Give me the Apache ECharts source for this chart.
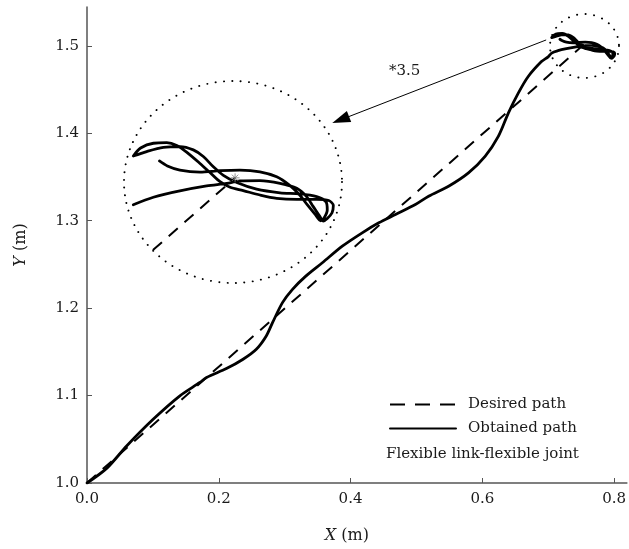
<!DOCTYPE html>
<html>
<head>
<meta charset="utf-8">
<script src="https://cdn.jsdelivr.net/npm/echarts@6/dist/echarts.min.js"></script>
<style>
  html, body { margin: 0; padding: 0; background: #fff; }
  #chart { width: 629px; height: 549px; }
</style>
</head>
<body>
<div id="chart"></div>
<script>
// Tick values
const xTicks = [0.0, 0.2, 0.4, 0.6, 0.8];
const yTicks = [1.0, 1.1, 1.2, 1.3, 1.4, 1.5];

// Desired straight path (start -> target)
const desiredX = [0.0, 0.754];
const desiredY = [1.0, 1.5015];

// Part of the desired path visible inside the magnified circle
const insetDesiredX = [0.7147, 0.754];
const insetDesiredY = [1.4754, 1.5015];

// Obtained path: approach from the origin to the target region
const approachX = [0.0, 0.0302, 0.0605, 0.1008, 0.1410, 0.1713, 0.1814, 0.2116, 0.2369, 0.2570,
  0.2721, 0.2816, 0.2967, 0.3119, 0.3321, 0.3572, 0.3875, 0.4177, 0.4429, 0.4682,
  0.4984, 0.5185, 0.5488, 0.5790, 0.6042, 0.6243, 0.6395, 0.6546, 0.6697, 0.6898, 0.6999];
const approachY = [1.0, 1.0170, 1.0426, 1.0731, 1.0997, 1.1150, 1.1207, 1.1309, 1.1416, 1.1530,
  1.1682, 1.1834, 1.2063, 1.2215, 1.2366, 1.2519, 1.2709, 1.2862, 1.2976, 1.3071,
  1.3185, 1.3280, 1.3394, 1.3547, 1.3736, 1.3965, 1.4232, 1.4460, 1.4650, 1.4821, 1.4875];

// Obtained path: oscillation around the target point
const tangleX = [0.7053, 0.7149, 0.7276, 0.7404, 0.7500, 0.7563, 0.7659, 0.7755, 0.7835, 0.7882, 0.7914, 0.7946, 0.7962,
  0.7981, 0.8004, 0.8010, 0.7988, 0.7930, 0.7835, 0.7739, 0.7659, 0.7579, 0.7516, 0.7468, 0.7420, 0.7372, 0.7308, 0.7261, 0.7213, 0.7149, 0.7088, 0.7053,
  0.7117, 0.7197, 0.7276, 0.7340, 0.7388, 0.7436, 0.7484, 0.7548, 0.7643, 0.7755, 0.7851, 0.7930, 0.7975, 0.7981, 0.7965, 0.7950,
  0.7922, 0.7886, 0.7847, 0.7800, 0.7739, 0.7659, 0.7563, 0.7468, 0.7372, 0.7276, 0.7216, 0.7178];
const tangleY = [1.4918, 1.4945, 1.4968, 1.4986, 1.4995, 1.5004, 1.5005, 1.4995, 1.4977, 1.4947, 1.4911, 1.4875, 1.4859,
  1.4868, 1.4889, 1.4915, 1.4933, 1.4937, 1.4937, 1.4941, 1.4953, 1.4969, 1.4981, 1.5001, 1.5034, 1.5067, 1.5108, 1.5132, 1.5142, 1.5140, 1.5123, 1.5094,
  1.5110, 1.5125, 1.5128, 1.5116, 1.5092, 1.5055, 1.5024, 1.4998, 1.4974, 1.4961, 1.4957, 1.4947, 1.4928, 1.4899, 1.4869, 1.4860,
  1.4884, 1.4917, 1.4955, 1.4989, 1.5019, 1.5037, 1.5043, 1.5041, 1.5036, 1.5043, 1.5058, 1.5076];

const zip = (xs, ys) => xs.map((x, i) => [x, ys[i]]);
const obtained = zip(approachX.concat(tangleX), approachY.concat(tangleY));
const tangle = zip(tangleX, tangleY);
const desired = zip(desiredX, desiredY);
const insetDesired = zip(insetDesiredX, insetDesiredY);

const FONT = 'DejaVu Serif';
const TXT = '#1a1a1a';
const AXIS = '#555';

// Magnified view window (centred on the target)
const zoomCx = 0.753, zoomCy = 1.5;
const zoomHx = 0.05215, zoomHy = 0.03649;

const chart = echarts.init(document.getElementById('chart'), null, { renderer: 'canvas' });

chart.setOption({
  animation: false,
  backgroundColor: '#fff',
  grid: [
    { left: 87, top: 7, width: 542, height: 477 },
    { left: 124, top: 81, width: 218, height: 202 }
  ],
  xAxis: [
    {
      gridIndex: 0, type: 'value', min: 0, max: 0.8194,
      axisLine: { show: true, onZero: false, lineStyle: { color: AXIS, width: 1.5 } },
      axisTick: { show: true, inside: true, length: 5, customValues: xTicks, lineStyle: { color: AXIS, width: 1 } },
      axisLabel: { customValues: xTicks, margin: 9, color: TXT, fontFamily: FONT, fontSize: 15,
        formatter: v => v.toFixed(1) },
      splitLine: { show: false },
      name: '{i|X}{n| (m)}', nameLocation: 'middle', nameGap: 45,
      nameTextStyle: { padding: [0, 20, 0, 0],
        rich: { i: { fontFamily: FONT, fontStyle: 'italic', fontSize: 16, color: TXT },
                n: { fontFamily: FONT, fontSize: 16, color: TXT } } }
    },
    { gridIndex: 1, type: 'value', min: zoomCx - zoomHx, max: zoomCx + zoomHx, show: false }
  ],
  yAxis: [
    {
      gridIndex: 0, type: 'value', min: 1.0, max: 1.5445,
      axisLine: { show: true, onZero: false, lineStyle: { color: AXIS, width: 1.5 } },
      axisTick: { show: true, inside: true, length: 5, customValues: yTicks, lineStyle: { color: AXIS, width: 1 } },
      axisLabel: { customValues: yTicks, margin: 8, color: TXT, fontFamily: FONT, fontSize: 15,
        formatter: v => v.toFixed(1) },
      splitLine: { show: false },
      name: '{i|Y}{n| (m)}', nameLocation: 'middle', nameGap: 58,
      nameTextStyle: {
        rich: { i: { fontFamily: FONT, fontStyle: 'italic', fontSize: 16, color: TXT },
                n: { fontFamily: FONT, fontSize: 16, color: TXT } } }
    },
    { gridIndex: 1, type: 'value', min: zoomCy - zoomHy, max: zoomCy + zoomHy, show: false }
  ],
  legend: {
    orient: 'vertical', left: 384, top: 392,
    itemWidth: 66, itemHeight: 14, itemGap: 9,
    data: [
      { name: 'Desired path', lineStyle: { type: [15, 10] } },
      { name: 'Obtained path' }
    ],
    itemStyle: { color: 'rgba(0,0,0,0)', borderWidth: 0 },
    textStyle: { fontFamily: FONT, fontSize: 15, color: TXT, padding: [0, 0, 0, 7] }
  },
  series: [
    {
      name: 'Desired path', type: 'line', xAxisIndex: 0, yAxisIndex: 0,
      data: desired, symbol: 'none', z: 2,
      lineStyle: { color: '#000', width: 2, type: [12, 9] },
      itemStyle: { color: '#000' },
      markLine: {
        silent: true, symbol: ['none', 'triangle'], symbolSize: [12, 18],
        label: { show: false },
        lineStyle: { color: '#000', width: 1, type: 'solid' },
        itemStyle: { color: '#000' },
        data: [[{ coord: [0.6969, 1.5068] }, { coord: [0.3850, 1.4155] }]]
      }
    },
    {
      name: 'Obtained path', type: 'line', xAxisIndex: 0, yAxisIndex: 0,
      data: obtained, symbol: 'none', smooth: 0.3, z: 3,
      lineStyle: { color: '#000', width: 2.8, cap: 'round', join: 'round' },
      itemStyle: { color: '#000' }
    },
    {
      name: 'desired-zoom', type: 'line', xAxisIndex: 1, yAxisIndex: 1,
      data: insetDesired, symbol: 'none', z: 2,
      lineStyle: { color: '#000', width: 2, type: [12, 9] }
    },
    {
      name: 'obtained-zoom', type: 'line', xAxisIndex: 1, yAxisIndex: 1,
      data: tangle, symbol: 'none', smooth: 0.3, z: 3,
      lineStyle: { color: '#000', width: 2.8, cap: 'round', join: 'round' }
    },
    {
      name: 'target', type: 'scatter', xAxisIndex: 1, yAxisIndex: 1,
      data: [[desiredX[1], desiredY[1]]], z: 4,
      symbol: 'path://M5 0L5 10M0 5L10 5M1.5 1.5L8.5 8.5M8.5 1.5L1.5 8.5',
      symbolSize: 9,
      itemStyle: { color: 'rgba(0,0,0,0)', borderColor: '#777', borderWidth: 1 }
    }
  ],
  graphic: [
    { type: 'circle', x: 584.5, y: 46, scaleY: 32 / 34.5, shape: { cx: 0, cy: 0, r: 34.5 }, silent: true,
      style: { fill: 'none', stroke: '#000', lineWidth: 2, lineDash: [0.1, 8.5], lineCap: 'round' } },
    { type: 'circle', x: 233, y: 182, scaleY: 202 / 218, shape: { cx: 0, cy: 0, r: 109 }, silent: true,
      style: { fill: 'none', stroke: '#000', lineWidth: 2, lineDash: [0.1, 8.3], lineCap: 'round' } },
    { type: 'text', left: 389, top: 64, silent: true,
      style: { text: '*3.5', font: '15px "DejaVu Serif"', fill: TXT } },
    { type: 'text', left: 386, top: 447, silent: true,
      style: { text: 'Flexible link-flexible joint', font: '15px "DejaVu Serif"', fill: TXT } }
  ]
});
</script>
</body>
</html>
